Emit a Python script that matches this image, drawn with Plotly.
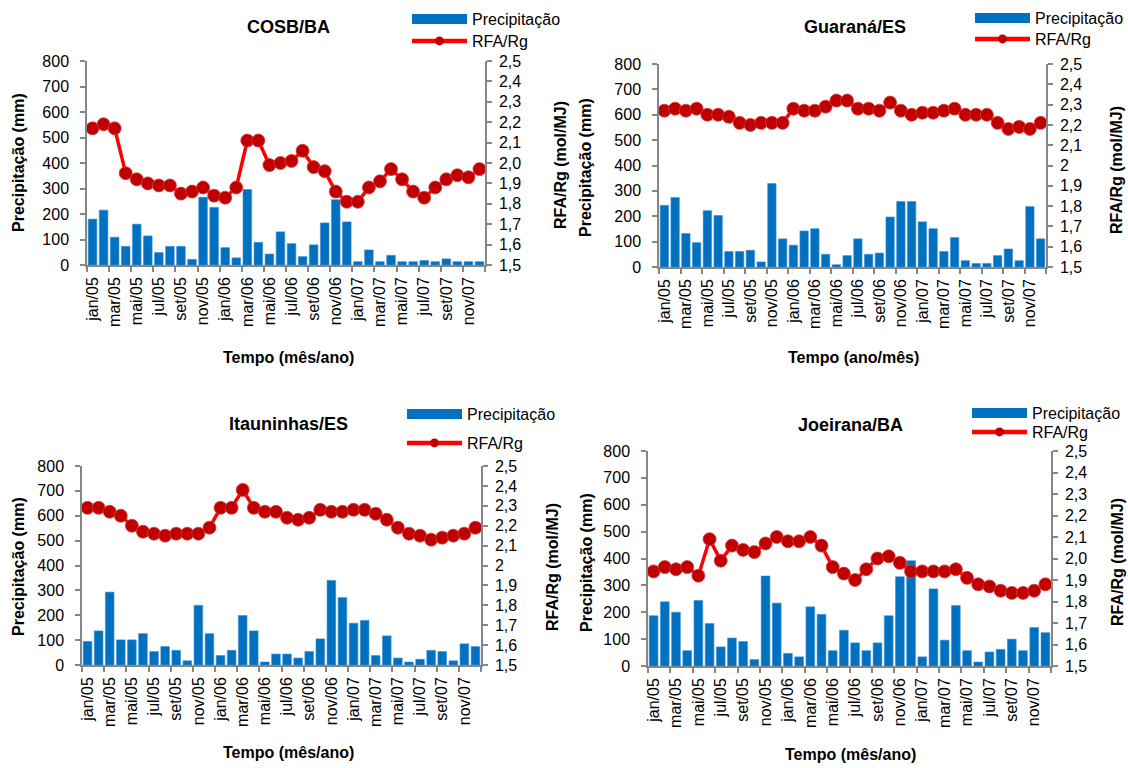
import plotly.graph_objects as go

# ---------------- data ----------------
months = ["jan/05", "fev/05", "mar/05", "abr/05", "mai/05", "jun/05", "jul/05", "ago/05",
          "set/05", "out/05", "nov/05", "dez/05",
          "jan/06", "fev/06", "mar/06", "abr/06", "mai/06", "jun/06", "jul/06", "ago/06",
          "set/06", "out/06", "nov/06", "dez/06",
          "jan/07", "fev/07", "mar/07", "abr/07", "mai/07", "jun/07", "jul/07", "ago/07",
          "set/07", "out/07", "nov/07", "dez/07"]

titles = ["COSB/BA", "Guaraná/ES", "Itauninhas/ES", "Joeirana/BA"]
x_titles = ["Tempo (mês/ano)", "Tempo (ano/mês)", "Tempo (mês/ano)", "Tempo (mês/ano)"]

precip_cosb = [180, 215, 109, 73, 160, 114, 49, 73, 73, 22, 266, 226,
               68, 28, 296, 89, 43, 130, 84, 33, 79, 165, 256, 169,
               13, 59, 13, 38, 13, 13, 18, 13, 24, 13, 13, 13]
rfa_cosb = [2.17, 2.19, 2.17, 1.95, 1.92, 1.90, 1.89, 1.89, 1.85, 1.86, 1.88, 1.84,
            1.83, 1.88, 2.11, 2.11, 1.99, 2.00, 2.01, 2.06, 1.98, 1.96, 1.86, 1.81,
            1.81, 1.88, 1.91, 1.97, 1.92, 1.86, 1.83, 1.88, 1.92, 1.94, 1.93, 1.97]

precip_guarana = [243, 274, 132, 96, 222, 203, 61, 61, 66, 20, 329, 111,
                  86, 142, 151, 50, 9, 45, 111, 50, 55, 197, 258, 258,
                  178, 151, 61, 116, 25, 14, 14, 45, 71, 25, 238, 111]
rfa_guarana = [2.27, 2.28, 2.27, 2.28, 2.25, 2.25, 2.24, 2.21, 2.20, 2.21, 2.21, 2.21,
               2.28, 2.27, 2.27, 2.29, 2.32, 2.32, 2.28, 2.28, 2.27, 2.31, 2.27, 2.25,
               2.26, 2.26, 2.27, 2.28, 2.25, 2.25, 2.25, 2.21, 2.18, 2.19, 2.18, 2.21]

precip_itauninhas = [95, 137, 293, 101, 101, 126, 54, 74, 59, 17, 240, 126,
                     38, 59, 199, 137, 12, 44, 44, 28, 54, 105, 340, 271,
                     168, 179, 38, 117, 28, 12, 23, 59, 54, 17, 85, 74]
rfa_itauninhas = [2.29, 2.29, 2.27, 2.25, 2.20, 2.17, 2.16, 2.15, 2.16, 2.16, 2.16, 2.19,
                  2.29, 2.29, 2.38, 2.29, 2.27, 2.27, 2.24, 2.23, 2.24, 2.28, 2.27, 2.27,
                  2.28, 2.28, 2.26, 2.23, 2.19, 2.16, 2.15, 2.13, 2.14, 2.15, 2.16, 2.19]

precip_joeirana = [187, 239, 200, 57, 244, 158, 71, 104, 91, 24, 335, 234,
                   47, 34, 220, 192, 57, 133, 86, 57, 86, 187, 332, 392,
                   34, 287, 96, 225, 57, 15, 52, 62, 100, 57, 143, 124]
rfa_joeirana = [1.94, 1.96, 1.95, 1.96, 1.92, 2.09, 1.99, 2.06, 2.04, 2.03, 2.07, 2.10,
                2.08, 2.08, 2.10, 2.06, 1.96, 1.93, 1.90, 1.95, 2.00, 2.01, 1.98, 1.94,
                1.94, 1.94, 1.94, 1.95, 1.91, 1.88, 1.87, 1.85, 1.84, 1.84, 1.85, 1.88]

precip_ticks = [0, 100, 200, 300, 400, 500, 600, 700, 800]
rfa_tickvals = [1.5, 1.6, 1.7, 1.8, 1.9, 2.0, 2.1, 2.2, 2.3, 2.4, 2.5]
rfa_ticktext_a = ["1,5", "1,6", "1,7", "1,8", "1,9", "2,0", "2,1", "2,2", "2,3", "2,4", "2,5"]
rfa_ticktext_b = ["1,5", "1,6", "1,7", "1,8", "1,9", "2", "2,1", "2,2", "2,3", "2,4", "2,5"]

precip_all = [precip_cosb, precip_guarana, precip_itauninhas, precip_joeirana]
rfa_all = [rfa_cosb, rfa_guarana, rfa_itauninhas, rfa_joeirana]
rfa_texts = [rfa_ticktext_a, rfa_ticktext_b, rfa_ticktext_b, rfa_ticktext_a]

# ---------------- layout geometry (pixels) ----------------
W, H = 1128, 768
# plot boxes: left, right, top, bottom
boxes = [(87, 485, 61, 265), (659, 1046, 64, 267), (82, 481, 466, 665), (648, 1051, 451, 666)]
title_pos = [(288, 27), (855, 27), (288, 424), (850, 425)]
xtitle_pos = [(288, 358), (853, 358), (288, 752), (850, 754)]
ltitle_pos = [(18, 163), (586, 167), (18, 567), (586, 562)]
rtitle_pos = [(560, 165), (1117, 170), (552, 567), (1117, 562)]
# legend: symbol left x, y of first item, y of second item
legend_pos = [(407, 19, 41), (970, 18, 39), (402, 414, 443), (967, 413, 432)]

BLUE = "#0070C0"
RED = "#FF0000"
DARKRED = "#C00000"
GREY = "#868686"
FONT = "Liberation Sans, Arial, sans-serif"

idx = list(range(len(months)))
tick_idx = idx[::2]
tick_txt = months[::2]
minor_vals = [i - 0.5 for i in idx[::2]] + [len(months) - 0.5]

def px(x):
    return x / W

def py(y):
    return 1 - y / H

fig = go.Figure()
layout = dict(
    width=W, height=H,
    margin=dict(l=0, r=0, t=0, b=0, autoexpand=False),
    paper_bgcolor="white", plot_bgcolor="white",
    font=dict(family=FONT, size=16, color="#000000"),
    barmode="group", bargap=0.22,
    annotations=[],
)

for k in range(4):
    n = k + 1
    xa = "x" if n == 1 else f"x{n}"
    yl = f"y{2 * n - 1}" if n > 1 else "y"
    yr = f"y{2 * n}"
    l, r, t, b = boxes[k]
    lg1 = "legend" if k == 0 else f"legend{2 * k + 1}"
    lg2 = f"legend{2 * k + 2}"

    fig.add_trace(go.Bar(
        x=idx, y=precip_all[k], name="Precipitação", xaxis=xa, yaxis=yl,
        marker=dict(color=BLUE, line=dict(color="#3d8fd0", width=0.6)),
        showlegend=False,
    ))
    fig.add_trace(go.Scatter(
        x=idx, y=rfa_all[k], name="RFA/Rg", mode="lines+markers", xaxis=xa, yaxis=yr,
        line=dict(color=RED, width=3.5),
        marker=dict(color=DARKRED, size=13, line=dict(color="#d23a3a", width=0.8)),
        showlegend=False,
    ))
    # legend entries styled like the original (wide rectangle, small marker)
    fig.add_trace(go.Scatter(
        x=[None], y=[None], name="Precipitação", mode="lines",
        line=dict(color=BLUE, width=10), xaxis=xa, yaxis=yl, legend=lg1,
    ))
    fig.add_trace(go.Scatter(
        x=[None], y=[None], name="RFA/Rg", mode="lines+markers", xaxis=xa, yaxis=yr,
        line=dict(color=RED, width=4.5),
        marker=dict(color=DARKRED, size=9),
        legend=lg2,
    ))

    xkey = "xaxis" if n == 1 else f"xaxis{n}"
    ylkey = "yaxis" if n == 1 else f"yaxis{2 * n - 1}"
    yrkey = f"yaxis{2 * n}"
    layout[xkey] = dict(
        domain=[px(l), px(r)], anchor=yl, range=[-0.5, len(months) - 0.5],
        tickmode="array", tickvals=tick_idx, ticktext=tick_txt, tickangle=-90,
        ticks="", showline=True, linecolor=GREY, linewidth=1.5, showgrid=False, zeroline=False,
        tickfont=dict(size=16, color="#000000"), ticklabelstandoff=4,
        minor=dict(tickmode="array", tickvals=minor_vals, ticks="outside", ticklen=5,
                   tickcolor=GREY, tickwidth=1.5, showgrid=False),
    )
    layout[ylkey] = dict(
        domain=[py(b), py(t)], anchor=xa, range=[0, 800],
        tickmode="array", tickvals=precip_ticks,
        ticks="outside", ticklen=5, tickcolor=GREY, tickwidth=1.5,
        showline=True, linecolor=GREY, linewidth=1.5, showgrid=False, zeroline=False,
        tickfont=dict(size=16, color="#000000"), ticklabelstandoff=8,
    )
    layout[yrkey] = dict(
        overlaying=yl, side="right", anchor=xa, range=[1.5, 2.5],
        tickmode="array", tickvals=rfa_tickvals, ticktext=rfa_texts[k],
        ticks="outside", ticklen=5, tickcolor=GREY, tickwidth=1.5,
        showline=True, linecolor=GREY, linewidth=1.5, showgrid=False, zeroline=False,
        tickfont=dict(size=16, color="#000000"), ticklabelstandoff=4,
    )

    ann = layout["annotations"]
    tx, ty = title_pos[k]
    ann.append(dict(text=f"<b>{titles[k]}</b>", x=px(tx), y=py(ty), xref="paper", yref="paper",
                    showarrow=False, font=dict(size=18, family=FONT, color="#000000"),
                    xanchor="center", yanchor="middle"))
    tx, ty = xtitle_pos[k]
    ann.append(dict(text=f"<b>{x_titles[k]}</b>", x=px(tx), y=py(ty), xref="paper", yref="paper",
                    showarrow=False, font=dict(size=16, family=FONT, color="#000000"),
                    xanchor="center", yanchor="middle"))
    tx, ty = ltitle_pos[k]
    ann.append(dict(text="<b>Precipitação (mm)</b>", x=px(tx), y=py(ty), xref="paper", yref="paper",
                    showarrow=False, textangle=-90, font=dict(size=16, family=FONT, color="#000000"),
                    xanchor="center", yanchor="middle"))
    tx, ty = rtitle_pos[k]
    ann.append(dict(text="<b>RFA/Rg (mol/MJ)</b>", x=px(tx), y=py(ty), xref="paper", yref="paper",
                    showarrow=False, textangle=-90, font=dict(size=16, family=FONT, color="#000000"),
                    xanchor="center", yanchor="middle"))

    lx, ly1, ly2 = legend_pos[k]
    for key, yy in ((lg1, ly1), (lg2, ly2)):
        layout[key] = dict(
            x=px(lx), y=py(yy), xanchor="left", yanchor="middle", xref="paper", yref="paper",
            bgcolor="rgba(0,0,0,0)", borderwidth=0, itemwidth=55,
            font=dict(size=16, family=FONT, color="#000000"),
            tracegroupgap=0,
        )

fig.update_layout(**layout)
fig.write_html("out.html")
